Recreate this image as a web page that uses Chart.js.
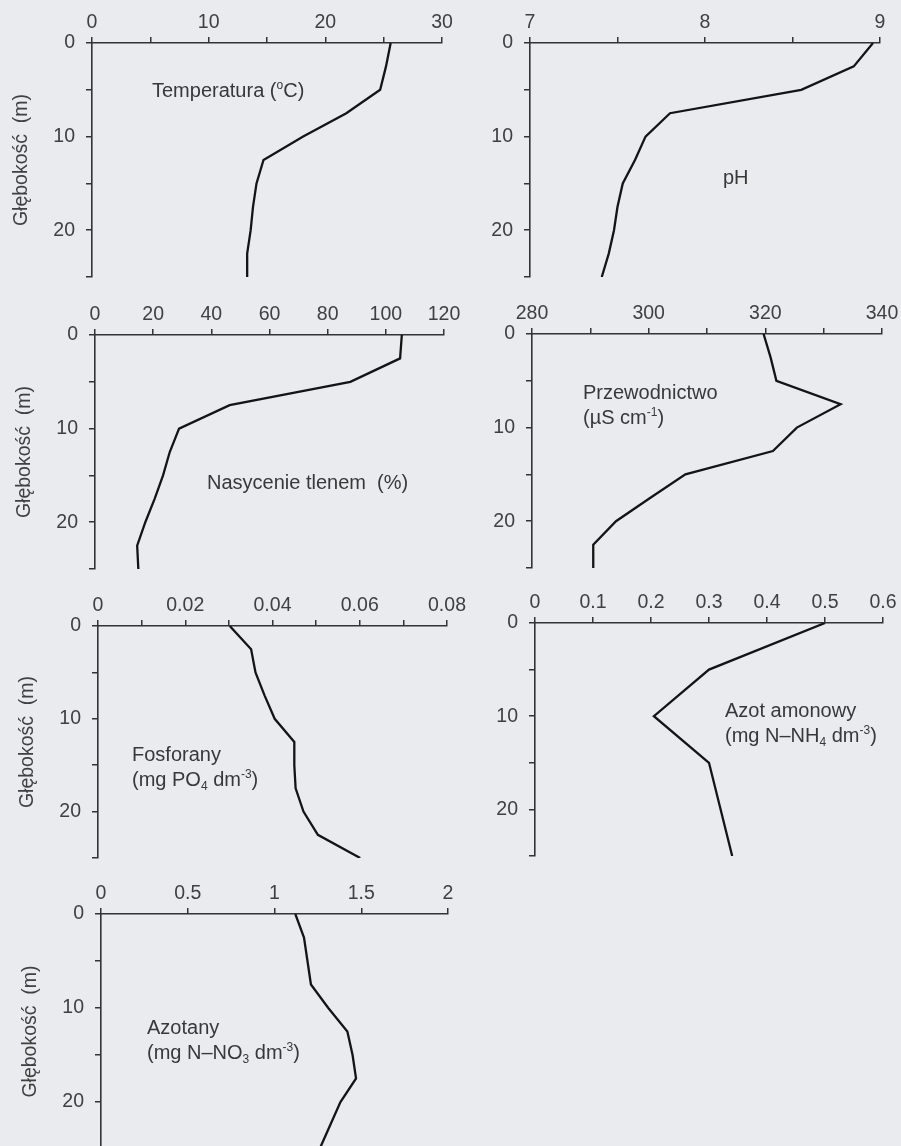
<!DOCTYPE html>
<html>
<head>
<meta charset="utf-8">
<script src="https://cdn.jsdelivr.net/npm/chart.js@4.4.1/dist/chart.umd.min.js"></script>
<style>
  html, body { margin: 0; padding: 0; width: 901px; height: 1146px; overflow: hidden; background: #eaebee; }
  .wrap { position: absolute; }
  .lbl { position: absolute; font-family: "Liberation Sans", Arial, sans-serif; font-size: 20px; line-height: 25px; color: #383838; white-space: pre; }
  .lbl sup, .lbl sub { font-size: 0.6em; line-height: 0; position: relative; vertical-align: baseline; }
  .lbl sup { top: -0.7em; }
  .lbl sub { top: 0.3em; }
</style>
</head>
<body>
<script>
// ---- data (depth in m) ----
const depths = [0, 2.5, 5, 7.5, 10, 12.5, 15, 17.5, 20, 22.5, 25];
const temperature = [25.6, 25.2, 24.7, 21.8, 18.1, 14.7, 14.1, 13.8, 13.6, 13.3, 13.3];
const ph = [8.96, 8.85, 8.55, 7.80, 7.66, 7.60, 7.53, 7.50, 7.48, 7.45, 7.41];
const oxygen = [105.5, 104.9, 87.8, 46.3, 28.9, 25.7, 23.4, 20.5, 17.3, 14.5, 14.9];
const conductivity = [319.7, 320.9, 321.9, 332.9, 325.4, 321.3, 306.3, 300.3, 294.4, 290.5, 290.5];
const phosphate = [0.0302, 0.0351, 0.0361, 0.0382, 0.0405, 0.045, 0.045, 0.0453, 0.0471, 0.0504, 0.0601];
const ammoniumDepths = [0, 5, 10, 15, 25];
const ammonium = [0.50, 0.30, 0.205, 0.30, 0.34];
const nitrate = [1.12, 1.17, 1.19, 1.21, 1.31, 1.42, 1.45, 1.47, 1.38, 1.32, 1.26];

// ---- tick labels ----
const depthTickLabels = [0, 10, 20];
const tempTickLabels = [0, 10, 20, 30];
const phTickLabels = [7, 8, 9];
const oxygenTickLabels = [0, 20, 40, 60, 80, 100, 120];
const condTickLabels = [280, 300, 320, 340];
const phosTickLabels = [0, 0.02, 0.04, 0.06, 0.08];
const ammTickLabels = [0, 0.1, 0.2, 0.3, 0.4, 0.5, 0.6];
const nitTickLabels = [0, 0.5, 1, 1.5, 2];

const FONT = '"Liberation Sans", Arial, sans-serif';
const INK = '#333';
const TXT = '#404040';

const panels = [
  { cx: 0,   cy: 0,   L: 92,  T: 43,  R: 442, B: 277, min: 0,   max: 30,   step: 5,    labels: tempTickLabels, d: depths, v: temperature, title: true },
  { cx: 450, cy: 0,   L: 530, T: 43,  R: 880, B: 277, min: 7,   max: 9,    step: 0.5,  labels: phTickLabels, d: depths, v: ph, title: false },
  { cx: 0,   cy: 290, L: 95,  T: 335, R: 444, B: 569, min: 0,   max: 120,  step: 20,   labels: oxygenTickLabels, d: depths, v: oxygen, title: true },
  { cx: 450, cy: 290, L: 532, T: 334, R: 882, B: 568, min: 280, max: 340,  step: 10,   labels: condTickLabels, d: depths, v: conductivity, title: false },
  { cx: 0,   cy: 580, L: 98,  T: 626, R: 447, B: 858, min: 0,   max: 0.08, step: 0.01, labels: phosTickLabels, d: depths, v: phosphate, title: true },
  { cx: 450, cy: 580, L: 535, T: 623, R: 883, B: 856, min: 0,   max: 0.6,  step: 0.1,  labels: ammTickLabels, d: ammoniumDepths, v: ammonium, title: false },
  { cx: 0,   cy: 870, L: 101, T: 914, R: 448, B: 1149, min: 0,  max: 2,    step: 0.5,  labels: nitTickLabels, d: depths, v: nitrate, title: true }
];

function hasLabel(list, v) {
  return list.some(t => Math.abs(t - v) < 1e-9 * Math.max(1, Math.abs(t)) + 1e-7);
}

panels.forEach(p => {
  const cw = p.cx === 0 ? 485 : 451, ch = 290;
  const wrap = document.createElement('div');
  wrap.className = 'wrap';
  wrap.style.left = p.cx + 'px'; wrap.style.top = p.cy + 'px';
  wrap.style.width = cw + 'px'; wrap.style.height = ch + 'px';
  const canvas = document.createElement('canvas');
  canvas.width = cw; canvas.height = ch;
  canvas.style.width = cw + 'px'; canvas.style.height = ch + 'px';
  wrap.appendChild(canvas);
  document.body.appendChild(wrap);

  const padLeft = p.title ? (p.L - p.cx) - 92 : 0;
  const yWidth = (p.L - p.cx) - padLeft;
  const gridOpts = { drawOnChartArea: false, drawTicks: true, tickLength: 6, color: INK, lineWidth: 1.5 };
  const borderOpts = { display: true, color: INK, width: 1.6 };

  new Chart(canvas, {
    type: 'scatter',
    data: {
      datasets: [{
        data: p.d.map((dep, i) => ({ x: p.v[i], y: dep })),
        showLine: true,
        borderColor: '#141414',
        borderWidth: 2.3,
        pointRadius: 0,
        pointHoverRadius: 0,
        fill: false,
        tension: 0
      }]
    },
    options: {
      responsive: false,
      animation: false,
      events: [],
      plugins: { legend: { display: false }, tooltip: { enabled: false } },
      layout: { padding: { left: padLeft, top: 0, right: cw - (p.R - p.cx), bottom: ch - (p.B - p.cy) } },
      scales: {
        x: {
          type: 'linear', position: 'top', min: p.min, max: p.max,
          ticks: {
            stepSize: p.step, autoSkip: false, maxRotation: 0, padding: 3,
            color: TXT, font: { family: FONT, size: 19.5 },
            callback: v => hasLabel(p.labels, v) ? String(Math.round(v * 1000) / 1000) : ''
          },
          grid: gridOpts, border: borderOpts,
          afterFit: s => { s.height = p.T - p.cy; s.paddingLeft = 0; s.paddingRight = 0; }
        },
        y: {
          type: 'linear', position: 'left', reverse: true, min: 0, max: 25,
          ticks: {
            stepSize: 5, autoSkip: false, padding: 11,
            color: TXT, font: { family: FONT, size: 19.5 },
            callback: v => hasLabel(depthTickLabels, v) ? String(v) : ''
          },
          title: {
            display: p.title, text: 'Głębokość  (m)', color: TXT,
            font: { family: FONT, size: 19.5 }, padding: { top: 10, bottom: 0 }
          },
          grid: gridOpts, border: borderOpts,
          afterFit: s => { s.width = yWidth; s.paddingTop = 0; s.paddingBottom = 0; }
        }
      }
    }
  });
});

// ---- in-plot labels ----
const labelDefs = [
  { x: 152, y: 78,  html: 'Temperatura (<sup>o</sup>C)' },
  { x: 723, y: 165, html: 'pH' },
  { x: 207, y: 470, html: 'Nasycenie tlenem  (%)' },
  { x: 583, y: 380, html: 'Przewodnictwo\n(µS cm<sup>-1</sup>)' },
  { x: 132, y: 742, html: 'Fosforany\n(mg PO<sub>4</sub> dm<sup>-3</sup>)' },
  { x: 725, y: 698, html: 'Azot amonowy\n(mg N–NH<sub>4</sub> dm<sup>-3</sup>)' },
  { x: 147, y: 1015, html: 'Azotany\n(mg N–NO<sub>3</sub> dm<sup>-3</sup>)' }
];
labelDefs.forEach(l => {
  const d = document.createElement('div');
  d.className = 'lbl';
  d.style.left = l.x + 'px'; d.style.top = l.y + 'px';
  d.innerHTML = l.html;
  document.body.appendChild(d);
});
</script>
</body>
</html>
